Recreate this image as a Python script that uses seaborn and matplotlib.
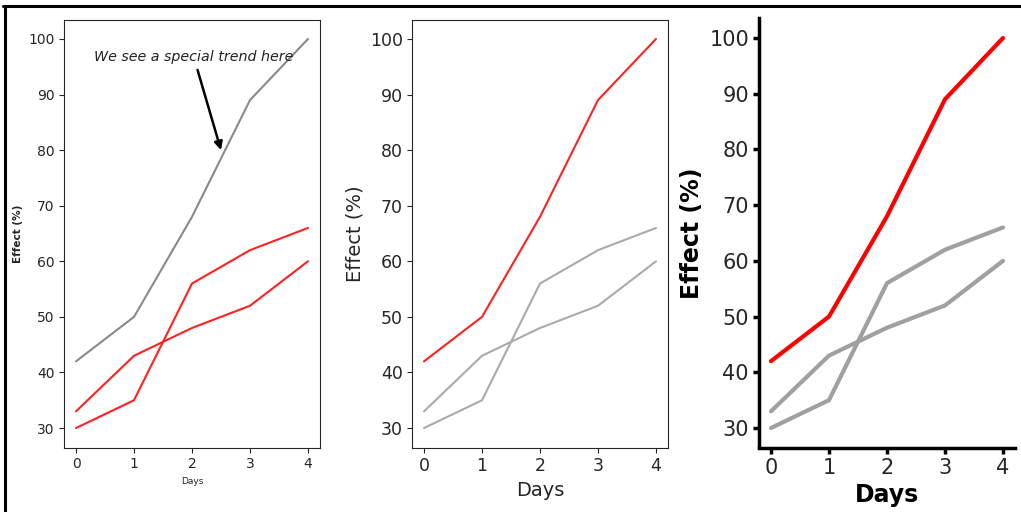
import numpy as np
import pandas as pd
import matplotlib
matplotlib.use("Agg")
import matplotlib.pyplot as plt
from matplotlib.lines import Line2D
import seaborn as sns

days = [0, 1, 2, 3, 4]
series_a = [42, 50, 68, 89, 100]
series_b = [33, 43, 48, 52, 60]
series_c = [30, 35, 56, 62, 66]
xlabel = "Days"
ylabel = "Effect (%)"
note = "We see a special trend here"

sns.set_style("ticks")
plt.rcParams['font.family'] = ['DejaVu Sans']

fig = plt.figure(figsize=(10.21, 5.12), dpi=100)
W, H = 1021, 512

def box(l, r, t, b):
    return [l / W, 1 - b / H, (r - l) / W, (b - t) / H]

ax1 = fig.add_axes(box(64.4, 319.6, 19.5, 447.5))
ax2 = fig.add_axes(box(412.4, 667.6, 19.5, 447.5))
ax3 = fig.add_axes(box(759.4, 1014.6, 18.5, 447.5))

# Panel 1
sns.lineplot(x=days, y=series_a, color="#8a8a8a", lw=1.5, ax=ax1)
sns.lineplot(x=days, y=series_b, color="#ff2020", lw=1.5, ax=ax1)
sns.lineplot(x=days, y=series_c, color="#ff2020", lw=1.5, ax=ax1)
ax1.set_xlabel(xlabel, fontsize=6.5)
ax1.set_ylabel(ylabel, fontsize=7.5, fontweight="bold")
ax1.tick_params(labelsize=10)
ax1.annotate(note, xy=(2.5, 80), xytext=(2.03, 95.5), ha="center", va="bottom",
             fontsize=10.3, style="italic", color="#222222",
             arrowprops=dict(arrowstyle="-|>", color="black", lw=1.8,
                             mutation_scale=12, shrinkA=2, shrinkB=0))

# Panel 2
sns.lineplot(x=days, y=series_a, color="#ff2020", lw=1.5, ax=ax2)
sns.lineplot(x=days, y=series_b, color="#aaaaaa", lw=1.5, ax=ax2)
sns.lineplot(x=days, y=series_c, color="#aaaaaa", lw=1.5, ax=ax2)
ax2.set_xlabel(xlabel, fontsize=14)
ax2.set_ylabel(ylabel, fontsize=14)
ax2.tick_params(labelsize=12.5)

# Panel 3
sns.lineplot(x=days, y=series_a, color="#ff0000", lw=3, ax=ax3)
sns.lineplot(x=days, y=series_b, color="#a0a0a0", lw=3, ax=ax3)
sns.lineplot(x=days, y=series_c, color="#a0a0a0", lw=3, ax=ax3)
sns.despine(ax=ax3)
for s in ("left", "bottom"):
    ax3.spines[s].set_linewidth(2.5)
    ax3.spines[s].set_color("black")
ax3.tick_params(labelsize=15, width=2.5, length=4, color="black")
ax3.set_xlabel(xlabel, fontsize=17, fontweight="bold", color="black")
ax3.set_ylabel(ylabel, fontsize=17, fontweight="bold", color="black")

for ax in (ax1, ax2, ax3):
    ax.set_xticks(days)
    ax.set_yticks([30, 40, 50, 60, 70, 80, 90, 100])

# outer frame (left and top edges visible)
fig.add_artist(Line2D([4.5 / W, 4.5 / W], [0, 1 - 6 / H], transform=fig.transFigure, color="black", lw=2.2))
fig.add_artist(Line2D([3.4 / W, 1], [1 - 6 / H, 1 - 6 / H], transform=fig.transFigure, color="black", lw=2.2))

fig.savefig("out.png", dpi=100)
